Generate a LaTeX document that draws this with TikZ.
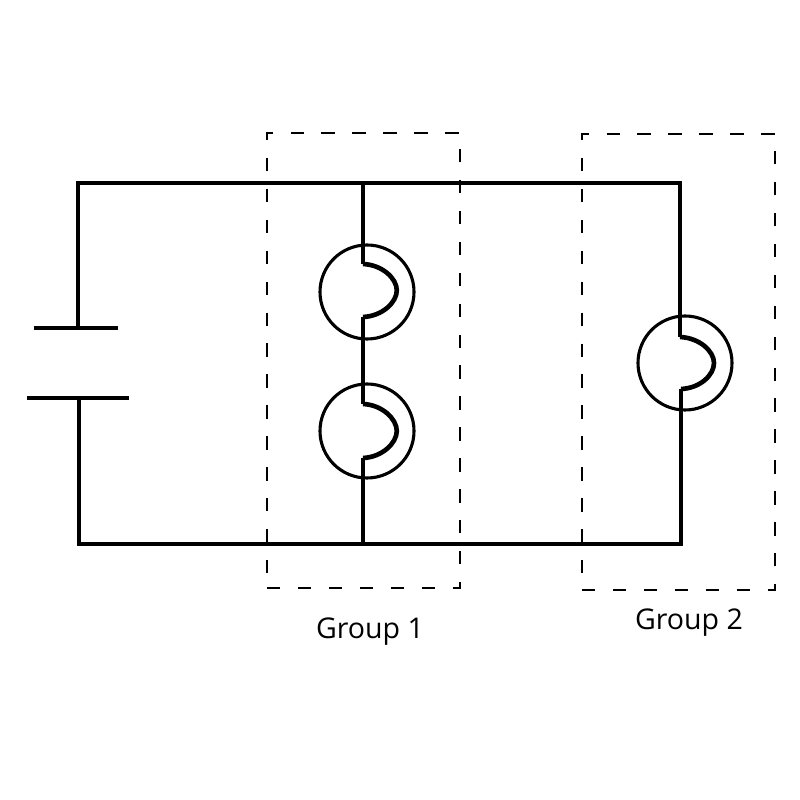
\documentclass[tikz,border=0pt]{standalone}
\usepackage{fontspec}
\setmainfont{Open Sans}
\usepackage{xcolor}
\usetikzlibrary{
  positioning,
  calc
}

\begin{document}
\begin{tikzpicture}[
wire/.style={draw, line width=3.3pt},
plate/.style={draw, line width=2.8pt},
lamp/.style={draw, circle, line width=2.2pt, minimum size=2.35cm, inner sep=0pt},
group/.style={draw, dashed, line width=1pt, dash pattern=on 9.5pt off 12.5pt},
lbl/.style={font=\fontsize{20.3}{24}\selectfont}
]
\useasboundingbox (0,0) rectangle (20,20);
% corners of the loop
\coordinate (tl) at (1.95,15.425);
\coordinate (tm) at (9.075,15.425);
\coordinate (tr) at (17.0,15.425);
\coordinate (bl) at (1.975,6.4);
\coordinate (bm) at (9.075,6.4);
\coordinate (br) at (17.025,6.4);
% battery
\node[minimum size=0pt, inner sep=0pt] (p1) at (1.95,11.8) {};
\node[minimum size=0pt, inner sep=0pt] (p2) at (1.975,10.05) {};
\coordinate (p1l) at (0.85,11.8);
\coordinate (p1r) at (2.95,11.8);
\coordinate (p2l) at (0.675,10.05);
\coordinate (p2r) at (3.225,10.05);
\draw[plate] (p1l)--(p1r);
\draw[plate] (p2l)--(p2r);
% lamps
\node[lamp] (la) at (9.175,12.7) {};
\node[lamp] (lb) at (9.175,9.225) {};
\node[lamp] (lc) at (17.125,10.925) {};
\coordinate (a1) at (9.075,13.4);
\coordinate (a2) at (9.92,12.74);
\coordinate (a3) at (9.075,12.075);
\coordinate (b1) at (9.075,9.9);
\coordinate (b2) at (9.92,9.225);
\coordinate (b3) at (9.075,8.55);
\coordinate (c1) at (17.0,11.575);
\coordinate (c2) at (17.85,10.925);
\coordinate (c3) at (17.025,10.275);
\draw[wire] (a1) .. controls +(0.48,-0.02) and +(0,0.3) .. (a2) .. controls +(0,-0.3) and +(0.48,0.02) .. (a3);
\draw[wire] (b1) .. controls +(0.48,-0.02) and +(0,0.3) .. (b2) .. controls +(0,-0.3) and +(0.48,0.02) .. (b3);
\draw[wire] (c1) .. controls +(0.48,-0.02) and +(0,0.3) .. (c2) .. controls +(0,-0.3) and +(0.48,0.02) .. (c3);
% wires
\draw[wire] (p1.center)--(tl)--(tr)--(c1);
\draw[wire] (p2.center)--(bl)--(br)--(c3);
\draw[wire] (tm)--(a1);
\draw[wire] (a3)--(b1);
\draw[wire] (b3)--(bm);
% groups
\node[group, minimum width=4.825cm, minimum height=11.375cm] (g1) at (9.0875,10.99) {};
\node[group, minimum width=4.825cm, minimum height=11.4cm] (g2) at (16.9625,10.95) {};
\node[lbl] (t1) at (9.25,4.22) {Group 1};
\node[lbl] (t2) at (17.225,4.44) {Group 2};
\end{tikzpicture}
\end{document}
